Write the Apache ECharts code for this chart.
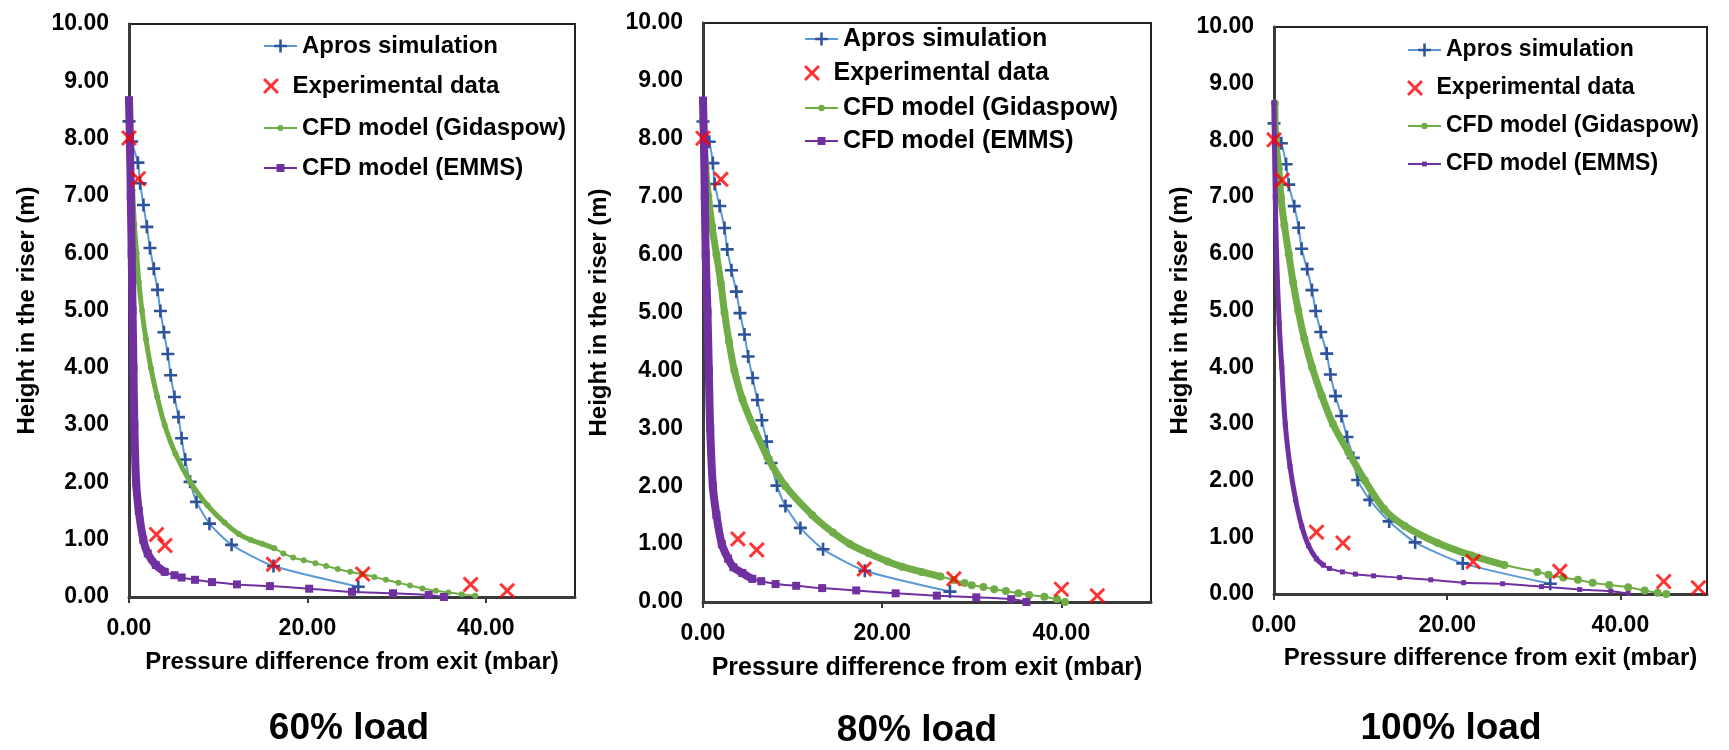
<!DOCTYPE html>
<html><head><meta charset="utf-8">
<script src="https://cdn.jsdelivr.net/npm/echarts@6/dist/echarts.min.js"></script>
<style>html,body{margin:0;padding:0;background:#fff}#c{width:1729px;height:750px}</style>
</head><body><div id="c"></div>
<script>
// ---------------- DATA ----------------
const panelTitles = ['60% load', '80% load', '100% load'];
const seriesNames = ['Apros simulation', 'Experimental data', 'CFD model (Gidaspow)', 'CFD model (EMMS)'];
const xAxisName = 'Pressure difference from exit (mbar)';
const yAxisName = 'Height in the riser (m)';
const xTicks = [0, 20, 40];

// Apros simulation: heights (m) and pressure difference (mbar)
const aprosHeights = [8.30, 7.95, 7.58, 7.22, 6.84, 6.46, 6.09, 5.73, 5.36, 4.99, 4.62, 4.24, 3.87, 3.49, 3.14, 2.77, 2.40, 2.01, 1.66, 1.28, 0.91, 0.54, 0.18];
const aprosX60  = [0.0, 0.3, 1.0, 1.25, 1.62, 2.0, 2.35, 2.78, 3.2, 3.52, 3.92, 4.35, 4.67, 5.1, 5.55, 5.9, 6.3, 6.85, 7.57, 9.02, 11.5, 16.2, 25.7];
const aprosX80  = [0.0, 0.7, 1.1, 1.3, 1.86, 2.4, 2.7, 3.18, 3.72, 4.13, 4.63, 5.04, 5.54, 6.07, 6.57, 7.1, 7.6, 8.26, 9.2, 10.87, 13.4, 18.06, 27.56];
const aprosX100 = [0.0, 0.85, 1.4, 1.7, 2.34, 2.85, 3.19, 3.83, 4.38, 4.81, 5.4, 6.09, 6.51, 7.1, 7.79, 8.43, 9.15, 9.66, 11.06, 13.3, 16.3, 21.8, 31.9];

// Experimental data
const expHeights = [8.01, 7.30, 1.09, 0.90, 0.57, 0.40, 0.22, 0.11];
const expX60  = [0.0, 1.04, 3.08, 4.03, 16.2, 26.2, 38.3, 42.4];
const expX80  = [0.0, 2.0, 3.9, 6.0, 18.0, 28.0, 40.0, 44.0];
const expX100 = [0.0, 0.94, 4.9, 7.96, 23.0, 33.0, 45.0, 49.0];

// CFD model (Gidaspow): [pressure (mbar), height (m)]
const gidaspow60 = [[0.0,8.20],[0.15,7.60],[0.40,7.10],[0.60,6.50],[0.85,6.00],[1.10,5.50],[1.45,5.00],[1.90,4.50],[2.45,4.00],[3.15,3.50],[4.00,3.00],[5.20,2.50],[6.90,2.00],[8.80,1.60],[10.7,1.30],[12.3,1.10],[13.6,1.00],[14.9,0.93],[16.3,0.85],[17.3,0.76],[18.4,0.69],[19.6,0.64],[20.9,0.59],[22.1,0.54],[23.4,0.49],[24.8,0.44],[26.1,0.40],[27.5,0.35],[28.8,0.30],[30.2,0.25],[31.5,0.20],[32.9,0.15],[34.4,0.11],[35.8,0.08],[37.3,0.05],[38.8,0.02]];
const gidaspow80 = [[0.0,8.32],[0.3,7.50],[0.6,7.00],[1.0,6.50],[1.5,6.00],[2.0,5.50],[2.4,5.00],[2.9,4.50],[3.5,4.00],[4.4,3.50],[5.7,3.00],[7.2,2.50],[9.2,2.00],[12.2,1.50],[14.5,1.20],[16.4,1.00],[18.5,0.84],[20.6,0.70],[22.2,0.61],[24.4,0.52],[26.5,0.44],[28.0,0.38],[29.2,0.33],[30.0,0.29],[31.3,0.26],[32.5,0.22],[33.8,0.19],[35.2,0.15],[36.4,0.12],[38.1,0.09],[39.5,0.05],[40.4,0.00]];
const gidaspow100 = [[0.1,8.65],[0.2,8.00],[0.55,7.50],[0.8,7.00],[1.2,6.50],[1.7,6.00],[2.2,5.50],[2.8,5.00],[3.5,4.50],[4.4,4.00],[5.5,3.50],[6.8,3.00],[8.6,2.50],[10.5,2.00],[12.7,1.50],[15.1,1.20],[18.9,0.90],[22.8,0.68],[26.6,0.51],[30.4,0.39],[31.7,0.34],[33.4,0.29],[35.1,0.25],[36.8,0.20],[38.7,0.16],[40.9,0.12],[42.8,0.06],[44.3,0.02],[45.3,0.00]];

// CFD model (EMMS): [pressure (mbar), height (m)]
const emms60 = [[0.0,8.67],[0.1,8.0],[0.2,7.0],[0.3,6.0],[0.4,5.0],[0.5,4.0],[0.6,3.0],[0.8,2.0],[1.1,1.5],[1.6,1.0],[2.1,0.76],[3.0,0.56],[4.0,0.44],[5.1,0.38],[5.9,0.34],[7.4,0.30],[9.3,0.26],[12.1,0.22],[15.8,0.19],[20.2,0.145],[25.0,0.09],[29.6,0.065],[33.6,0.035],[35.3,0.0]];
const emms80 = [[0.0,8.66],[0.1,8.0],[0.2,7.0],[0.3,6.0],[0.5,5.0],[0.65,4.0],[0.8,3.0],[1.1,2.0],[1.5,1.5],[2.1,1.0],[2.8,0.75],[3.4,0.60],[4.4,0.50],[5.5,0.40],[6.5,0.36],[8.1,0.31],[10.4,0.28],[13.3,0.24],[17.1,0.20],[21.5,0.15],[26.1,0.11],[30.5,0.08],[34.4,0.05],[36.1,0.0]];
const emms100 = [[0.0,8.67],[0.05,8.0],[0.15,7.0],[0.3,5.95],[0.6,4.77],[0.9,4.0],[1.3,3.0],[1.85,2.25],[2.5,1.66],[3.2,1.20],[4.0,0.85],[4.9,0.62],[5.7,0.51],[6.4,0.45],[7.9,0.39],[9.4,0.35],[11.5,0.32],[14.5,0.29],[18.1,0.25],[21.9,0.20],[26.4,0.18],[30.9,0.13],[35.3,0.08],[38.9,0.05],[40.9,0.01]];

// ---------------- LAYOUT / STYLE ----------------
const FONT = 'Liberation Sans, Arial, Helvetica, sans-serif';
const BLUE_LINE = '#5B9BD5', BLUE_MARK = '#2F539B', RED = '#FF0000', GREEN = '#70AD47', PURPLE = '#7030A0';
const PLUS = 'path://M4,0H6V4H10V6H6V10H4V6H0V4H4Z';
const CROSS = 'path://M0,1.3L1.3,0L5,3.7L8.7,0L10,1.3L6.3,5L10,8.7L8.7,10L5,6.3L1.3,10L0,8.7L3.7,5Z';

const layout = [
  {grid:{left:129,top:24,width:446,height:573}, legendLeft:263, legendRows:[46,86,128,168], legendFont:24,
   xNameGap:53, xNameFont:24, yNameGap:90, yNameFont:24, title:[349,729],
   gidDot:6, gidBand:5, gidBandMin:0.85, emmsDot:8, emmsBand:8, emmsBandMin:0.44, gidLegH:7.5, emmsLegH:10},
  {grid:{left:703,top:23,width:448,height:579}, legendLeft:804, legendRows:[39,73,108,141], legendFont:25,
   xNameGap:54, xNameFont:25, yNameGap:92, yNameFont:24, title:[917,731],
   gidDot:8, gidBand:7, gidBandMin:0.44, emmsDot:8, emmsBand:8, emmsBandMin:0.40, gidLegH:8, emmsLegH:10},
  {grid:{left:1274,top:27,width:433,height:567}, legendLeft:1407, legendRows:[50,88,126,164], legendFont:23,
   xNameGap:52, xNameFont:24, yNameGap:82, yNameFont:24, title:[1451,729],
   gidDot:8, gidBand:7, gidBandMin:0.51, emmsDot:5, emmsBand:5, emmsBandMin:0.51, gidLegH:8, emmsLegH:6}
];

const panels = [
  {apros: aprosX60,  exp: expX60,  gid: gidaspow60,  emms: emms60},
  {apros: aprosX80,  exp: expX80,  gid: gidaspow80,  emms: emms80},
  {apros: aprosX100, exp: expX100, gid: gidaspow100, emms: emms100}
];

const pairs = (xs, hs) => xs.map((x, k) => [x, hs[k]]);
const txt = (size) => ({fontSize:size, fontWeight:'bold', color:'#000', fontFamily:FONT});

const grids = [], xAxes = [], yAxes = [], series = [], legends = [], graphics = [];

layout.forEach((L, i) => {
  const P = panels[i];
  grids.push(Object.assign({show:true, borderColor:'#222', borderWidth:2, backgroundColor:'transparent', containLabel:false, outerBoundsMode:'none'}, L.grid));
  xAxes.push({
    gridIndex:i, type:'value', min:0, max:50, interval:20,
    axisLine:{show:true, onZero:false, lineStyle:{color:'#3a3a3a', width:3}},
    axisTick:{show:true, length:6, customValues:xTicks, lineStyle:{color:'#3a3a3a', width:2}},
    axisLabel:Object.assign({customValues:xTicks, margin:20, formatter:v => Number(v).toFixed(2)}, txt(23)),
    splitLine:{show:false},
    name:xAxisName, nameLocation:'middle', nameGap:L.xNameGap, nameMoveOverlap:false,
    nameTextStyle:txt(L.xNameFont)
  });
  yAxes.push({
    gridIndex:i, type:'value', min:0, max:10, interval:1,
    axisLine:{show:true, onZero:false, lineStyle:{color:'#3a3a3a', width:3}},
    axisTick:{show:false},
    axisLabel:Object.assign({margin:20, formatter:v => Number(v).toFixed(2)}, txt(23)),
    splitLine:{show:false},
    name:yAxisName, nameLocation:'middle', nameGap:L.yNameGap, nameRotate:90, nameMoveOverlap:false,
    nameTextStyle:txt(L.yNameFont)
  });

  const common = {xAxisIndex:i, yAxisIndex:i, clip:false, silent:true, animation:false, emphasis:{disabled:true}};
  series.push(Object.assign({type:'line', name:seriesNames[0], data:pairs(P.apros, aprosHeights),
    symbol:PLUS, symbolSize:13, smooth:0.2, lineStyle:{color:BLUE_LINE, width:2},
    itemStyle:{color:BLUE_MARK, borderWidth:0}, z:2}, common));
  series.push(Object.assign({type:'line', name:seriesNames[2], data:P.gid,
    symbol:'circle', symbolSize:L.gidDot, smooth:0.3, lineStyle:{color:GREEN, width:2},
    itemStyle:{color:GREEN, borderWidth:0}, z:3}, common));
  series.push(Object.assign({type:'line', name:seriesNames[2], data:P.gid.filter(p => p[1] >= L.gidBandMin),
    showSymbol:false, symbol:'none', smooth:0.3, lineStyle:{color:GREEN, width:L.gidBand, cap:'round', join:'round'},
    itemStyle:{color:GREEN}, z:3}, common));
  series.push(Object.assign({type:'line', name:seriesNames[3], data:P.emms,
    symbol:'rect', symbolSize:L.emmsDot, smooth:0.3, lineStyle:{color:PURPLE, width:2},
    itemStyle:{color:PURPLE, borderWidth:0}, z:4}, common));
  series.push(Object.assign({type:'line', name:seriesNames[3], data:P.emms.filter(p => p[1] >= L.emmsBandMin),
    showSymbol:false, symbol:'none', smooth:0.3, lineStyle:{color:PURPLE, width:L.emmsBand, cap:'round', join:'round'},
    itemStyle:{color:PURPLE}, z:4}, common));
  series.push(Object.assign({type:'scatter', name:seriesNames[1], data:pairs(P.exp, expHeights),
    symbol:CROSS, symbolSize:16, itemStyle:{color:RED, borderWidth:0}, z:5}, common));

  const legH = [16, 16, L.gidLegH, L.emmsLegH];
  seriesNames.forEach((nm, r) => {
    legends.push({
      left:L.legendLeft, top:L.legendRows[r] - L.legendFont / 2, orient:'vertical', padding:0,
      itemWidth:33, itemHeight:legH[r], selectedMode:false, data:[nm],
      textStyle:txt(L.legendFont)
    });
  });

  graphics.push({type:'text', x:L.title[0], y:L.title[1], silent:true,
    style:{text:panelTitles[i], fill:'#000', font:'bold 37px ' + FONT, align:'center', verticalAlign:'middle'}});
});

const chart = echarts.init(document.getElementById('c'), null, {renderer:'canvas'});
chart.setOption({
  backgroundColor:'#fff',
  animation:false,
  grid:grids, xAxis:xAxes, yAxis:yAxes, legend:legends, series:series, graphic:graphics
});
</script></body></html>
